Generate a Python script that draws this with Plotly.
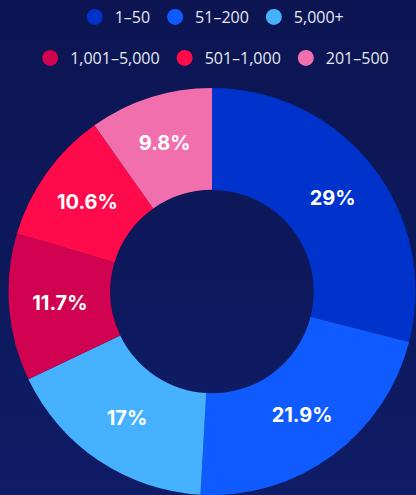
import plotly.graph_objects as go

labels = ["1–50", "51–200", "5,000+", "1,001–5,000", "501–1,000", "201–500"]
values = [29, 21.9, 17, 11.7, 10.6, 9.8]
colors = ["#0033cc", "#0f5bff", "#45b1ff", "#d1024f", "#ff0a4a", "#f06fac"]
# first three entries go in the top legend row, the rest in the second row
legend_rows = ["legend", "legend", "legend", "legend2", "legend2", "legend2"]

bg_top, bg_bottom = "#0c1552", "#0f1c66"
label_font = "Inter, 'Open Sans', sans-serif"
legend_font = "'Open Sans', sans-serif"

fig = go.Figure()

fig.add_trace(go.Pie(
    labels=labels,
    values=values,
    hole=0.5,
    sort=False,
    direction="clockwise",
    rotation=0,
    marker=dict(colors=colors, line=dict(width=0)),
    texttemplate="%{value}%",
    textposition="inside",
    insidetextorientation="horizontal",
    textfont=dict(family=label_font, size=20, color="white", weight="bold"),
    domain=dict(x=[8 / 416, 1], y=[0, 1]),
    showlegend=False,
    hoverinfo="label+percent",
))

# legend entries as empty scatter traces so the two rows can be placed separately
for name, color, lg in zip(labels, colors, legend_rows):
    fig.add_trace(go.Scatter(
        x=[None], y=[None], mode="markers", name=name, legend=lg,
        marker=dict(size=17, color=color, symbol="circle"),
    ))

legend_style = dict(
    orientation="h", xanchor="center", x=0.51, yanchor="middle",
    font=dict(family=legend_font, size=16, color="#e6e8f2"),
    bgcolor="rgba(0,0,0,0)", itemsizing="trace", itemwidth=30,
)

fig.update_layout(
    width=416, height=495,
    paper_bgcolor="rgba(0,0,0,0)", plot_bgcolor="rgba(0,0,0,0)",
    margin=dict(l=0, r=0, t=88, b=0, pad=0),
    xaxis=dict(visible=False), yaxis=dict(visible=False),
    legend=dict(**legend_style, y=1 + (88 - 17) / 407),
    legend2=dict(**legend_style, y=1 + (88 - 58) / 407),
)

# no page margin, and a soft vertical gradient behind the transparent figure
post = (
    "document.body.style.margin='0';"
    "document.getElementById('{plot_id}').style.background="
    f"'linear-gradient({bg_top}, {bg_bottom})';"
)
fig.write_html("out.html", config={"displayModeBar": False}, post_script=post)
